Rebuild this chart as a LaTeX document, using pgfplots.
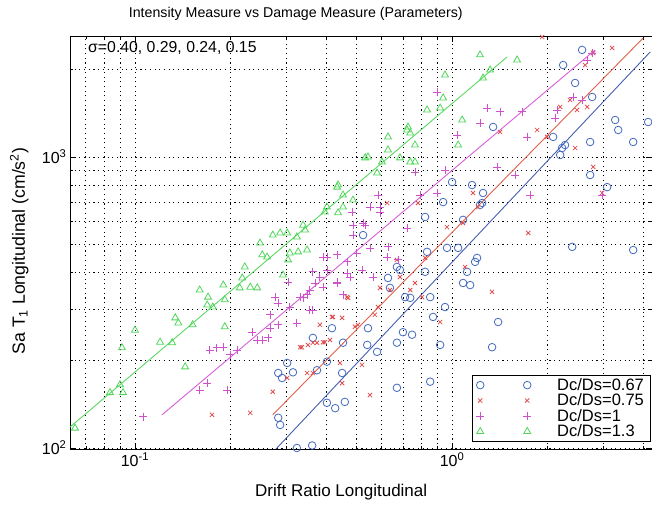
\documentclass[border=0pt]{standalone}
\usepackage{pgfplots}
\pgfplotsset{compat=1.18}
\usepackage{fontspec}
\setmainfont{Liberation Sans}
\definecolor{blueC}{RGB}{65,105,190}
\definecolor{redC}{RGB}{225,80,80}
\definecolor{magC}{RGB}{205,80,205}
\definecolor{greenC}{RGB}{80,215,90}
\definecolor{blueL}{RGB}{70,95,175}
\definecolor{redL}{RGB}{225,95,75}
\definecolor{magL}{RGB}{215,95,215}
\definecolor{greenL}{RGB}{90,215,100}
\pgfplotsset{twomarks/.style={legend image code/.code={\path[draw=none,fill=none] (0pt,-0.1pt) rectangle (75pt,0.1pt);\draw[##1] plot[only marks] coordinates {(0pt,0pt)};\draw[##1] plot[only marks] coordinates {(47pt,0pt)};}}}
\begin{document}
\begin{tikzpicture}
\useasboundingbox (-70pt,-56pt) rectangle (582pt,449pt);
\begin{axis}[
  at={(0pt,0pt)}, anchor=south west,
  scale only axis, width=582pt, height=413pt,
  xmode=log, ymode=log,
  xmin=0.0624, xmax=4.27, ymin=99.2, ymax=2605,
  xtick={0.1,1}, xticklabels={10\textsuperscript{-1},10\textsuperscript{0}},
  ytick={100,1000}, yticklabels={10\textsuperscript{2},10\textsuperscript{3}},
  minor xtick={0.07,0.08,0.09,0.2,0.3,0.4,0.5,0.6,0.7,0.8,0.9,2,3,4},
  minor ytick={200,300,400,500,600,700,800,900,2000},
  grid=both,
  major grid style={black, line width=0.7pt, dash pattern=on 1.1pt off 3.6pt},
  minor grid style={black, line width=0.7pt, dash pattern=on 1.1pt off 3.6pt},
  tick align=inside, tick pos=both,
  major tick length=6pt, minor tick length=3pt,
  tick style={black, line width=0.6pt},
  axis line style={black, line width=0.8pt},
  ticklabel style={font=\fontsize{16}{16}\selectfont},
  every axis title shift=0pt,
  title={Intensity Measure vs Damage Measure (Parameters)},
  title style={font=\fontsize{14.2}{14.2}\selectfont, at={(axis description cs:0.388,1.054)}, anchor=center},
  xlabel={Drift Ratio Longitudinal},
  xlabel style={font=\fontsize{17}{17}\selectfont, at={(axis description cs:0.466,-0.104)}, anchor=center},
  ylabel={Sa T\textsubscript{1} Longitudinal (cm/s\textsuperscript{2})},
  ylabel style={font=\fontsize{17.7}{17.7}\selectfont, at={(axis description cs:-0.087,0.479)}, anchor=center},
  legend style={at={(0.997,0.018)}, anchor=south east, draw=black, line width=0.7pt, fill=white,
    font=\fontsize{16.5}{16.5}\selectfont, row sep=2pt, inner xsep=4pt, inner ysep=3pt,
    nodes={inner ysep=0pt}},
  legend cell align=left,
]
\addplot[only marks, mark=o, color=blueC, mark size=3.8pt, line width=0.8pt, twomarks]
 coordinates {
(0.283,181) (0.302,196) (0.315,182) (0.291,174) (0.364,239) (0.418,258) (0.453,230) (0.403,198)
(0.450,181) (0.403,143) (0.428,137) (0.459,144) (0.283,127) (0.287,120) (0.324,100) (0.362,102)
(0.375,185) (0.540,226) (0.580,214) (0.543,258) (0.670,230) (0.700,250) (0.748,245) (0.917,226)
(0.853,169) (0.670,161) (0.628,384) (0.685,409) (0.670,419) (0.637,355) (0.711,330) (0.738,328)
(0.822,403) (0.834,472) (0.853,330) (0.871,282) (0.950,305) (0.822,622) (0.937,700) (0.964,487)
(1.045,487) (1.083,608) (1.244,695) (1.115,403) (1.083,369) (1.140,363) (1.182,436) (1.199,450)
(1.397,271) (1.337,222) (2.392,491) (3.724,479) (0.524,539) (1.00,820) (1.156,801) (1.252,752)
(1.225,684) (1.347,1268) (2.083,1172) (2.271,1099) (2.223,1074) (2.192,1016) (2.725,1126)
(2.725,867) (3.083,788) (2.570,2333) (2.240,2070) (2.443,1796) (2.765,1608) (3.268,1340)
(3.341,1238) (3.724,1126) (4.152,1319)
};
\addlegendentry{Dc/Ds=0.67}
\addplot[only marks, mark=x, color=redC, mark size=3pt, line width=0.8pt, twomarks]
 coordinates {
(0.175,130) (0.231,132) (0.272,156) (0.302,174) (0.349,181) (0.450,167) (0.336,222) (0.351,226)
(0.375,230) (0.392,231) (0.412,235) (0.383,265) (0.421,282) (0.450,280) (0.466,330) (0.494,261)
(0.443,196) (0.332,222) (0.364,230) (0.397,231) (0.418,282) (0.470,328) (0.505,265) (0.584,305)
(0.571,287) (0.637,349) (0.670,443) (0.685,387) (0.738,349) (0.764,369) (0.804,330) (0.822,450)
(0.917,271) (0.520,193) (0.551,152) (0.364,181) (1.337,344) (1.738,548) (1.099,419) (0.593,355)
(1.164,752) (1.208,673) (1.083,593) (1.417,1219) (1.854,1238) (1.994,1172) (2.192,1486)
(2.355,1570) (2.478,1451) (2.666,1486) (2.628,2070) (2.786,2277) (3.197,2370) (1.923,2584)
(2.443,1074) (2.786,924) (2.973,752) (0.964,574) (0.781,695) (0.624,695)
};
\addlegendentry{Dc/Ds=0.75}
\addplot[only marks, mark=+, color=magC, mark size=4pt, line width=0.8pt, twomarks]
 coordinates {
(0.106,128) (0.160,158) (0.169,167) (0.195,158) (0.172,217) (0.181,221) (0.190,222) (0.1995,209)
(0.210,217) (0.234,250) (0.243,235) (0.253,235) (0.263,239) (0.267,258) (0.283,265) (0.324,269)
(0.267,287) (0.277,330) (0.283,315) (0.304,372) (0.339,328) (0.349,336) (0.364,298) (0.370,369)
(0.383,387) (0.403,409) (0.434,372) (0.453,336) (0.466,399) (0.403,453) (0.434,461) (0.392,357)
(0.487,583) (0.487,539) (0.308,305) (0.897,1673) (1.289,1473) (1.417,1429) (1.225,1309)
(1.04,1190) (1.663,1429) (1.725,1172) (1.387,924) (1.580,867) (1.762,740) (2.143,1451)
(2.113,1362) (2.409,1608) (2.570,1570) (2.666,2154) (2.765,2277) (0.764,888) (0.950,902)
(0.897,752) (0.793,740) (0.584,740) (0.551,673) (0.593,643) (0.484,647) (0.524,593) (2.973,740)
(0.392,453) (0.466,436) (0.501,468) (0.551,487) (0.624,453) (0.520,409) (0.563,387) (0.477,387)
(0.434,369) (0.364,403) (0.356,349) (0.332,330) (0.356,298) (0.628,491) (0.676,443) (0.721,570)
(0.532,583) (0.593,673)
};
\addlegendentry{Dc/Ds=1}
\addplot[only marks, mark=triangle, color=greenC, mark size=4pt, line width=0.8pt, twomarks]
 coordinates {
(0.0647,117) (0.0834,155) (0.0897,165) (0.0917,155) (0.0910,221) (0.100,254) (0.120,231)
(0.131,230) (0.134,280) (0.137,269) (0.152,265) (0.144,190) (0.160,349) (0.170,330) (0.169,310)
(0.176,305) (0.190,363) (0.192,323) (0.192,261) (0.214,355) (0.218,384) (0.222,419) (0.231,357)
(0.243,355) (0.252,461) (0.261,453) (0.248,506) (0.272,539) (0.287,548) (0.302,548) (0.304,443)
(0.308,468) (0.324,531) (0.327,472) (0.349,479) (0.344,561) (0.293,393) (1.225,2244) (1.603,2154)
(1.318,1991) (1.252,1868) (0.950,1914) (0.937,1596) (0.917,1473) (0.834,1451) (1.076,1340)
(1.045,1099) (0.764,1099) (0.726,1268) (0.738,1209) (0.721,1238) (0.628,1172) (0.628,1057)
(0.601,961) (0.543,1000) (0.532,993) (0.685,993) (0.738,961) (0.764,961) (0.580,881) (0.437,801)
(0.453,740) (0.403,673) (0.397,647) (0.437,643) (0.339,583) (0.434,788) (0.453,673) (0.487,711)
};
\addlegendentry{Dc/Ds=1.3}
\addplot[greenL, line width=0.9pt, forget plot] coordinates {(0.0624,118) (1.491,2207)};
\addplot[magL, line width=0.9pt, forget plot] coordinates {(0.1217,130) (2.825,2333)};
\addplot[redL, line width=0.9pt, forget plot] coordinates {(0.272,130) (4.005,2564)};
\addplot[blueL, line width=0.9pt, forget plot] coordinates {(0.2765,98.4) (4.215,2296)};
\node[anchor=west, font=\fontsize{15.8}{15.8}\selectfont, inner sep=0pt] at (rel axis cs:0.031,0.971) {σ=0.40, 0.29, 0.24, 0.15};
\end{axis}
\end{tikzpicture}
\end{document}
